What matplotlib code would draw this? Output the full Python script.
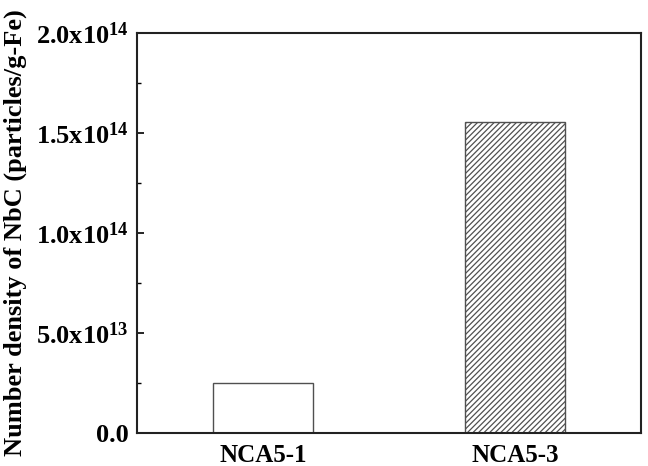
import matplotlib.pyplot as plt
from matplotlib.ticker import FixedLocator, FuncFormatter

# amostras e densidade numerica de NbC
samples = ['NCA5-1', 'NCA5-3']
density = [2.48e13, 1.555e14]
hatches = ['', '//////']

y_major = [0.0, 5.0e13, 1.0e14, 1.5e14, 2.0e14]
y_minor = [2.5e13, 7.5e13, 1.25e14, 1.75e14]

plt.rcParams['font.family'] = 'Liberation Serif'
plt.rcParams['font.weight'] = 'bold'
plt.rcParams['mathtext.fontset'] = 'custom'
plt.rcParams['mathtext.rm'] = 'Liberation Serif:bold'
plt.rcParams['mathtext.it'] = 'Liberation Serif:bold'
plt.rcParams['mathtext.bf'] = 'Liberation Serif:bold'
plt.rcParams['hatch.color'] = '#666666'
plt.rcParams['hatch.linewidth'] = 0.9

fig = plt.figure(figsize=(6.48, 4.66), dpi=100)
ax = fig.add_axes([137/648, 1-433/466, 504/648, 400/466])

x = [1, 2]
for xi, v, h in zip(x, density, hatches):
    ax.bar(xi, v, width=0.4, color='white', edgecolor='#505050',
           linewidth=1.0, hatch=h)

ax.set_xlim(0.5, 2.5)
ax.set_ylim(0, 2.0e14)
ax.set_xticks(x)
ax.set_xticklabels(samples, fontsize=18, fontweight='bold')
ax.tick_params(axis='x', length=0, pad=8)

def fmt(v, pos):
    if v == 0:
        return '0.0'
    exp = 0
    m = v
    while m >= 10:
        m /= 10
        exp += 1
    return '%.1fx10$^{%d}$' % (m, exp)

ax.yaxis.set_major_locator(FixedLocator(y_major))
ax.yaxis.set_minor_locator(FixedLocator(y_minor))
ax.yaxis.set_major_formatter(FuncFormatter(fmt))
ax.tick_params(axis='y', which='major', direction='in', length=5, width=1.2,
               labelsize=19, pad=6)
ax.tick_params(axis='y', which='minor', direction='in', length=3, width=1.0)

for s in ax.spines.values():
    s.set_linewidth(1.5)
    s.set_color('#222222')

ax.set_ylabel('Number density of NbC (particles/g-Fe)', fontsize=19,
              fontweight='bold', labelpad=6)

plt.savefig('out.png', dpi=100)
